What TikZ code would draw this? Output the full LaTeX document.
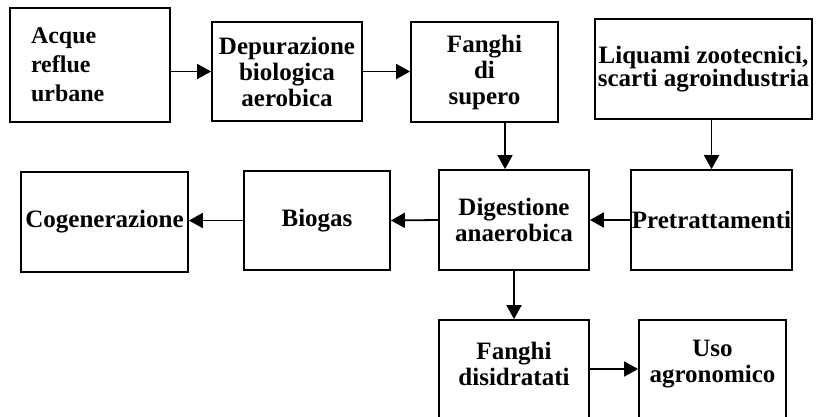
\documentclass[tikz,border=0pt]{standalone}
\usepackage{fontspec}
\setmainfont{Liberation Serif}
\usetikzlibrary{arrows.meta}

\begin{document}
\begin{tikzpicture} [x=1pt, y=-1pt, line width=1.8pt,
            box/.style={draw, rectangle, inner sep=0pt, align=center,
                        font=\bfseries\fontsize{25}{26}\selectfont},
            txt/.style={inner sep=0pt, align=center,
                        font=\bfseries\fontsize{25}{26}\selectfont},
            arr/.style={draw, -{Triangle[length=14pt,width=15pt]}}]
            \useasboundingbox (0,0) rectangle (818,416);
            % first row
            \node (acque) [box, minimum width=160pt, minimum height=114pt, text width=118pt, inner xsep=21pt, align=left,
                           font=\bfseries\fontsize{24}{29}\selectfont] at (90,65) {Acque\\reflue\\urbane};
            \node (depur) [box, minimum width=150pt, minimum height=99pt] at (287,71.5) {Depurazione\\biologica\\aerobica};
            \node (fanghi) [box, minimum width=147pt, minimum height=100pt] at (484.5,72) {Fanghi\\di\\supero};
            \node (liquami) [box, minimum width=217pt, minimum height=100pt, font=\bfseries\fontsize{25}{19}\selectfont] at (703.5,69) {Liquami zootecnici,\\scarti agroindustria};
            % second row
            \node (cogen) [box, minimum width=167pt, minimum height=100pt] at (104.5,222) {Cogenerazione};
            \node (biogas) [box, minimum width=146pt, minimum height=99pt] at (317,220.5) {Biogas};
            \node (digest) [box, minimum width=150pt, minimum height=100pt] at (514,220) {Digestione\\anaerobica};
            \node (pretratt) [box, minimum width=161pt, minimum height=100pt] at (711.5,220) {Pretrattamenti};
            % third row
            \node (fdisid) [box, minimum width=150pt, minimum height=110pt] at (514,375) {};
            \node (uso) [box, minimum width=147pt, minimum height=110pt] at (712.5,375) {};
            \node (fdisidT) [txt] at ([yshift=-45pt]fdisid.north) {Fanghi\\disidratati};
            \node (usoT) [txt] at ([yshift=-45pt]uso.north) {Uso\\agronomico};
            % arrows
            \draw[arr] (acque.east |- depur.west) -- (depur.west);
            \draw[arr] (depur.east) -- (fanghi.west |- depur.east);
            \draw[arr] ([xshift=20.5pt]fanghi.south) -- ([xshift=20.5pt]fanghi.south |- digest.north);
            \draw[arr] (liquami.south -| pretratt.north) -- (pretratt.north);
            \draw[arr] (pretratt.west) -- (digest.east);
            \draw[arr] (digest.west) -- (biogas.east);
            \draw[arr] (biogas.west) -- (cogen.east |- biogas.west);
            \draw[arr] (digest.south) -- (fdisid.north);
            \draw[arr] (fdisid.east |- 0,369) -- (uso.west |- 0,369);
        \end{tikzpicture}
\end{document}
